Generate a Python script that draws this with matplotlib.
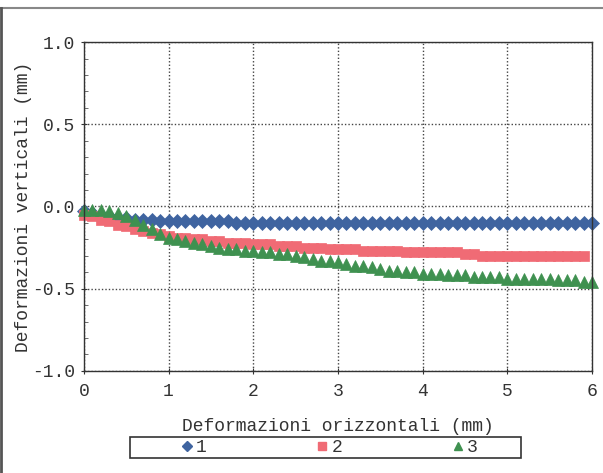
import matplotlib
matplotlib.use("Agg")
import matplotlib.pyplot as plt
from matplotlib.lines import Line2D
from matplotlib.patches import Rectangle
from matplotlib.ticker import MultipleLocator

# horizontal deformation (mm), one reading every 0.1 mm
x_mm = [round(0.1 * i, 1) for i in range(61)]

s1 = [-0.03, -0.04, -0.05, -0.06, -0.07, -0.07, -0.08, -0.08, -0.08, -0.09,
      -0.09, -0.09, -0.09, -0.09, -0.09, -0.09, -0.09, -0.09, -0.10, -0.10,
      -0.10, -0.10, -0.10, -0.10, -0.10, -0.10, -0.10, -0.10, -0.10, -0.10,
      -0.10, -0.10, -0.10, -0.10, -0.10, -0.10, -0.10, -0.10, -0.10, -0.10,
      -0.10, -0.10, -0.10, -0.10, -0.10, -0.10, -0.10, -0.10, -0.10, -0.10,
      -0.10, -0.10, -0.10, -0.10, -0.10, -0.10, -0.10, -0.10, -0.10, -0.10,
      -0.10]

s2 = [-0.05, -0.06, -0.08, -0.09, -0.11, -0.12, -0.14, -0.15, -0.16, -0.17,
      -0.18, -0.19, -0.19, -0.20, -0.20, -0.21, -0.21, -0.22, -0.22, -0.22,
      -0.23, -0.23, -0.23, -0.24, -0.24, -0.24, -0.25, -0.25, -0.25, -0.26,
      -0.26, -0.26, -0.26, -0.27, -0.27, -0.27, -0.27, -0.27, -0.28, -0.28,
      -0.28, -0.28, -0.28, -0.28, -0.28, -0.29, -0.29, -0.30, -0.30, -0.30,
      -0.30, -0.30, -0.30, -0.30, -0.30, -0.30, -0.30, -0.30, -0.30, -0.30]

s3 = [-0.02, -0.02, -0.02, -0.03, -0.04, -0.06, -0.08, -0.11, -0.14, -0.17,
      -0.19, -0.20, -0.21, -0.22, -0.23, -0.24, -0.25, -0.26, -0.26, -0.27,
      -0.27, -0.28, -0.28, -0.29, -0.29, -0.30, -0.31, -0.32, -0.33, -0.33,
      -0.34, -0.35, -0.36, -0.36, -0.37, -0.38, -0.39, -0.39, -0.40, -0.40,
      -0.41, -0.41, -0.41, -0.42, -0.42, -0.42, -0.43, -0.43, -0.43, -0.43,
      -0.44, -0.44, -0.44, -0.44, -0.44, -0.44, -0.45, -0.45, -0.45, -0.46,
      -0.46]

labels = ["1", "2", "3"]
colors = ["#3f64a0", "#f06b75", "#3f9150"]
markers = ["D", "s", "^"]
sizes = [7.5, 7.5, 8]

FONT = ["Liberation Mono", "DejaVu Sans Mono"]
plt.rcParams["font.family"] = FONT
TXT = "#333333"

fig = plt.figure(figsize=(6.03, 4.73), dpi=100)
ax = fig.add_axes([0.139, 0.216, 0.843, 0.695])

series = [s1, s2, s3]
for ys, c, m, s in zip(series, colors, markers, sizes):
  ax.plot(x_mm[:len(ys)], ys, ls="none", marker=m, ms=s,
          color=c, mec=c, mew=0.5, clip_on=False)

ax.set_xlim(0, 6)
ax.set_ylim(-1.0, 1.0)
ax.xaxis.set_major_locator(MultipleLocator(1))
ax.yaxis.set_minor_locator(MultipleLocator(0.1))
ax.set_yticks([1.0, 0.5, 0.0, -0.5, -1.0])
ax.set_yticklabels(["1.0", "0.5", "0.0", "-0.5", "-1.0"])
ax.grid(True, which="major", ls=(0, (1, 1.5)), color="#444444", lw=1)
ax.tick_params(axis="both", which="major", labelsize=13, color=TXT,
               labelcolor=TXT, length=5, direction="inout")
ax.tick_params(axis="x", which="major", pad=6)
ax.tick_params(axis="y", which="major", pad=4)
ax.tick_params(axis="y", which="minor", length=3, direction="in", color="#555555")
for sp in ax.spines.values():
  sp.set_color(TXT)
  sp.set_linewidth(1)

ax.set_xlabel("Deformazioni orizzontali (mm)", fontsize=13, color=TXT, labelpad=13)
ax.set_ylabel("Deformazioni verticali (mm)", fontsize=13, color=TXT, labelpad=0)

# legend box below the x label
fig.add_artist(Rectangle((0.216, 0.031), 0.648, 0.045, transform=fig.transFigure,
                         fill=False, ec=TXT, lw=1.2))
handles = [Line2D([], [], ls="none", marker=m, color=c, ms=s - 2)
           for m, c, s in zip(markers, colors, sizes)]
fig.legend(handles, labels, loc="center", ncol=3, bbox_to_anchor=(0.545, 0.054),
           frameon=False, fontsize=13, handletextpad=0.1, columnspacing=6.0,
           handlelength=0.8, labelcolor=TXT)

# scanned page edges
fig.add_artist(Line2D([0.0, 1.0], [0.983, 0.983], color="#888888", lw=1.5))
fig.add_artist(Line2D([0.002, 0.002], [0.0, 0.983], color="#555555", lw=2))

fig.savefig("out.png", dpi=100)
